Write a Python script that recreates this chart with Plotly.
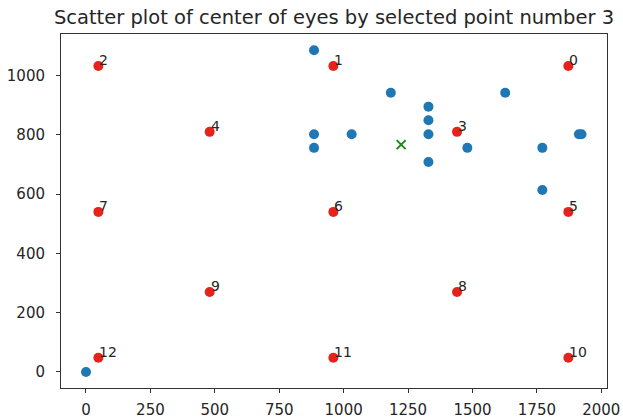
import plotly.graph_objects as go

# Red calibration points (labelled 0..12)
red_labels = [str(i) for i in range(13)]
red_x = [1872, 960, 48, 1440, 480, 1872, 960, 48, 1440, 480, 1872, 960, 48]
red_y = [1032, 1032, 1032, 810, 810, 540, 540, 540, 270, 270, 48, 48, 48]

# Blue eye-centre points
blue_x = [0, 885, 885, 885, 1031, 1183, 1329, 1329, 1329, 1329, 1480, 1627, 1771, 1771, 1913, 1923]
blue_y = [0, 1085, 802, 756, 802, 942, 895, 849, 802, 708, 756, 942, 756, 614, 802, 802]

# Green selected centre
green_x = [1223]
green_y = [767]

x_ticks = [0, 250, 500, 750, 1000, 1250, 1500, 1750, 2000]
y_ticks = [0, 200, 400, 600, 800, 1000]

title_text = "Scatter plot of center of eyes by selected point number 3"

fig = go.Figure()
fig.add_trace(go.Scatter(x=blue_x, y=blue_y, mode="markers",
                         marker=dict(color="#1f77b4", size=10, line=dict(width=0)),
                         showlegend=False, hoverinfo="skip"))
fig.add_trace(go.Scatter(x=red_x, y=red_y, mode="markers",
                         marker=dict(color="#e6221b", size=10, line=dict(width=0)),
                         showlegend=False, hoverinfo="skip"))
fig.add_trace(go.Scatter(x=green_x, y=green_y, mode="markers",
                         marker=dict(color="#1a8a1a", size=9, symbol="x-thin",
                                     line=dict(width=2, color="#1a8a1a")),
                         showlegend=False, hoverinfo="skip"))

for lbl, xv, yv in zip(red_labels, red_x, red_y):
    fig.add_annotation(x=xv, y=yv, text=lbl, showarrow=False,
                       xanchor="left", yanchor="bottom", xshift=-1, yshift=-4,
                       font=dict(family="DejaVu Sans", size=14, color="#262626"))

axis_common = dict(showline=True, linecolor="#333333", linewidth=1, mirror=True,
                   showgrid=False, zeroline=False, ticks="outside", ticklen=4,
                   tickcolor="#333333", tickwidth=1, automargin=False,
                   tickfont=dict(family="DejaVu Sans", size=15, color="#262626"))

fig.update_xaxes(range=[-97, 2022], tickvals=x_ticks, ticktext=[str(v) for v in x_ticks],
                 ticklabelstandoff=4, **axis_common)
fig.update_yaxes(range=[-54, 1140], tickvals=y_ticks, ticktext=[str(v) for v in y_ticks],
                 ticklabelstandoff=8, **axis_common)

fig.update_layout(
    width=623, height=420,
    margin=dict(l=61, r=16, t=34, b=32),
    paper_bgcolor="white", plot_bgcolor="white",
    title=dict(text=title_text, x=(61 + 607) / 2 / 623, xanchor="center",
               y=1 - 17 / 420, yanchor="middle",
               font=dict(family="DejaVu Sans", size=19.5, color="#262626")),
)

fig.write_html("out.html", config={"displayModeBar": False},
               post_script="document.body.style.margin='0';")
